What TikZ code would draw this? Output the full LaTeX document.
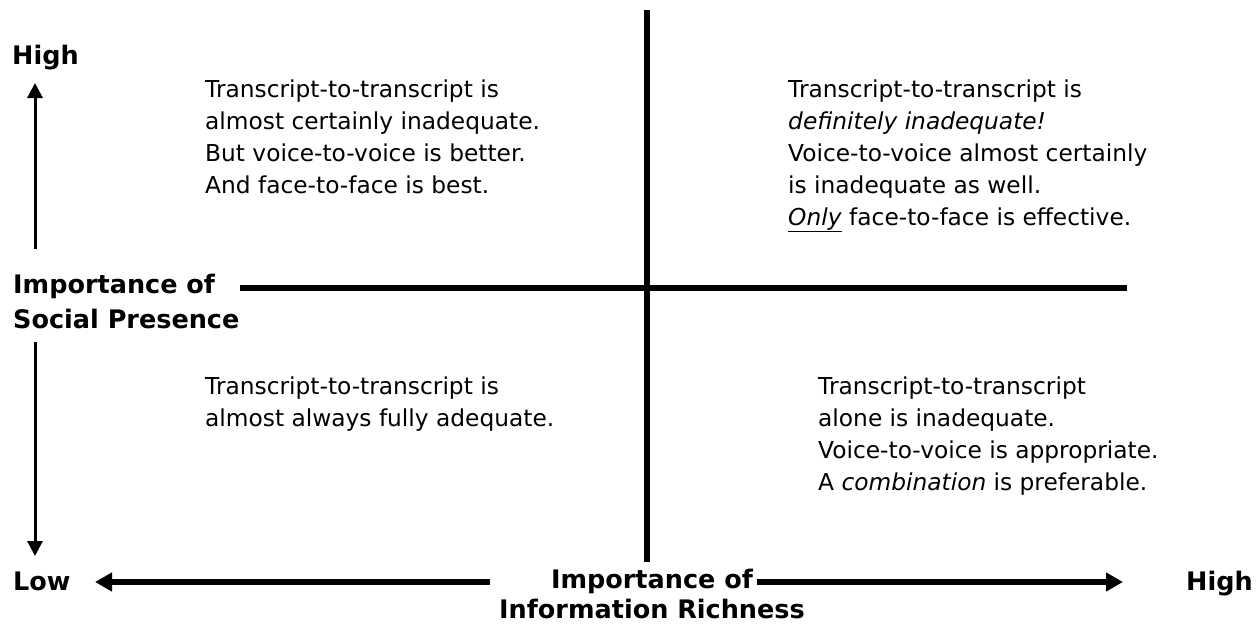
\documentclass[tikz,border=0pt]{standalone}
\usepackage{fontspec}
\setmainfont{DejaVu Sans}
\usetikzlibrary{arrows.meta}
\tikzset{
	quad/.style = {anchor = base west, align = left, inner sep = 0pt, font = \fontsize{23.3}{32}\selectfont},
	axislabel/.style = {anchor = base west, align = left, inner sep = 0pt, font = \fontsize{25.5}{35}\selectfont\bfseries},
	axisline/.style = {line width = 6pt},
	thinarrow/.style = {line width = 3pt, -{Triangle[width = 15pt, length = 15pt]}},
	thickarrow/.style = {line width = 6pt, -{Triangle[width = 18pt, length = 17pt]}}
}

\begin{document}
\begin{tikzpicture}[x = 1pt, y = -1pt]
	\useasboundingbox (0,0) rectangle (1260,626);

	\coordinate (vtop) at (647,10);
	\coordinate (vbot) at (647,562);
	\coordinate (hleft) at (240,288);
	\coordinate (hright) at (1127,288);
	\draw [axisline](vtop)--(vbot);
	\draw [axisline](hleft)--(hright);

	\coordinate (upfrom) at (35,249);
	\coordinate (upto) at (35,83);
	\coordinate (downfrom) at (35,342);
	\coordinate (downto) at (35,556);
	\draw [thinarrow](upfrom)--(upto);
	\draw [thinarrow](downfrom)--(downto);

	\coordinate (leftfrom) at (490,582);
	\coordinate (leftto) at (95,582);
	\coordinate (rightfrom) at (757,582);
	\coordinate (rightto) at (1123,582);
	\draw [thickarrow](leftfrom)--(leftto);
	\draw [thickarrow](rightfrom)--(rightto);

	\node [axislabel] (highsocial) at (12,65) {High};
	\node [axislabel] (social) at (13,328) {Importance of\\Social Presence};
	\node [axislabel] (lowinfo) at (13,590) {Low};
	\node [axislabel, anchor = base, align = center, font = \fontsize{25.5}{30}\selectfont\bfseries] (info) at (652,618) {Importance of\\Information Richness};
	\node [axislabel] (highinfo) at (1186,590) {High};

	\node [quad] (topleft) at (205,193) {Transcript-to-transcript is\\almost certainly inadequate.\\But voice-to-voice is better.\\And face-to-face is best.};
	\node [quad] (topright) at (788,225) {Transcript-to-transcript is\\\textit{definitely inadequate!}\\Voice-to-voice almost certainly\\is inadequate as well.\\\underline{\textit{Only}} face-to-face is effective.};
	\node [quad] (bottomleft) at (205,426) {Transcript-to-transcript is\\almost always fully adequate.};
	\node [quad] (bottomright) at (818,490) {Transcript-to-transcript\\alone is inadequate.\\Voice-to-voice is appropriate.\\A \textit{combination} is preferable.};
\end{tikzpicture}
\end{document}
